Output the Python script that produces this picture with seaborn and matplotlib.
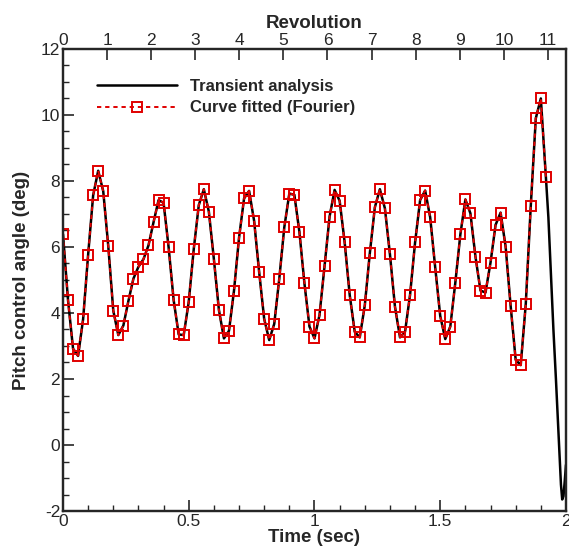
import numpy as np
import pandas as pd
import matplotlib
matplotlib.use("Agg")
import matplotlib.pyplot as plt
import seaborn as sns
from matplotlib.ticker import MultipleLocator

# ---- data ----
time_step = 0.02  # sampling interval of the fitted curve (sec)
fitted_values = [
    6.39, 4.39, 2.92, 2.70, 3.81, 5.77, 7.57, 8.31, 7.69, 6.03,
    4.07, 3.33, 3.62, 4.36, 5.04, 5.40, 5.63, 6.05, 6.75, 7.42,
    7.34, 5.99, 4.39, 3.35, 3.33, 4.34, 5.94, 7.27, 7.75, 7.07,
    5.63, 4.09, 3.23, 3.46, 4.68, 6.28, 7.47, 7.70, 6.79, 5.24,
    3.82, 3.18, 3.67, 5.04, 6.60, 7.62, 7.58, 6.46, 4.90, 3.59,
    3.23, 3.94, 5.42, 6.92, 7.73, 7.40, 6.14, 4.55, 3.43, 3.26,
    4.23, 5.81, 7.20, 7.75, 7.17, 5.78, 4.19, 3.26, 3.43, 4.55,
    6.14, 7.42, 7.71, 6.90, 5.38, 3.91, 3.21, 3.59, 4.92, 6.38,
    7.44, 7.02, 5.71, 4.68, 4.62, 5.53, 6.67, 7.04, 6.01, 4.21,
    2.58, 2.42, 4.26, 7.25, 9.90, 10.50, 8.13,
]
tail_time = [1.93, 1.94, 1.95, 1.96, 1.97, 1.98, 1.985, 1.99, 1.995, 2.00]
tail_values = [6.9, 5.2, 3.5, 2.0, 0.4, -1.2, -1.65, -1.55, -1.1, -0.6]
rev_at_end = 11.41  # revolutions reached at t = 2 s
rev_ticks = list(range(0, 12))
x_ticks = [0, 0.5, 1, 1.5, 2]
x_tick_labels = ["0", "0.5", "1", "1.5", "2"]
y_ticks = [-2, 0, 2, 4, 6, 8, 10, 12]

sns.set_style("ticks")
plt.rcParams['font.family'] = ['Liberation Sans', 'DejaVu Sans']
plt.rcParams['axes.unicode_minus'] = False
plt.rcParams['xtick.direction'] = 'in'
plt.rcParams['ytick.direction'] = 'in'

fig = plt.figure(figsize=(5.69, 5.54), dpi=100)
ax = fig.add_axes([0.1107, 0.0776, 0.884, 0.834])

fit_time = np.arange(len(fitted_values)) * time_step
df_fit = pd.DataFrame({"t": fit_time, "v": fitted_values})
df_tr = pd.DataFrame({"t": list(fit_time) + tail_time,
                      "v": fitted_values + tail_values})

sns.lineplot(data=df_tr, x="t", y="v", ax=ax, color="black", lw=1.8,
             label="Transient analysis", sort=False)
sns.lineplot(data=df_fit, x="t", y="v", ax=ax, color="#e00000", lw=1.4,
             linestyle=(0, (2.2, 2.0)), marker="s", markersize=7.2,
             markerfacecolor="none", markeredgecolor="#e00000",
             markeredgewidth=1.4, label="Curve fitted (Fourier)", sort=False)

ax.set_xlim(0, 2)
ax.set_ylim(-2, 12)
ax.set_xticks(x_ticks)
ax.set_xticklabels(x_tick_labels)
ax.set_yticks(y_ticks)
ax.xaxis.set_minor_locator(MultipleLocator(0.1))
ax.yaxis.set_minor_locator(MultipleLocator(0.5))
ax.tick_params(which="major", length=8, width=1.2, labelsize=12.5, pad=2)
ax.tick_params(which="minor", length=4.5, width=1.0)
ax.tick_params(axis="y", right=False)
ax.tick_params(axis="x", top=False)
for s in ax.spines.values():
    s.set_linewidth(1.6)
    s.set_visible(True)

ax.set_xlabel("Time (sec)", fontsize=13.5, fontweight="bold", labelpad=0)
ax.set_ylabel("Pitch control angle (deg)", fontsize=13.5, fontweight="bold", labelpad=8)

ax2 = ax.twiny()
ax2.set_xlim(0, rev_at_end)
ax2.set_xticks(rev_ticks)
ax2.tick_params(which="major", length=8, width=1.2, labelsize=12.5, pad=1, direction="in")
ax2.set_xlabel("Revolution", fontsize=13.5, fontweight="bold", labelpad=3)
for s in ax2.spines.values():
    s.set_linewidth(1.6)

leg = ax.legend(loc="upper left", bbox_to_anchor=(0.038, 0.968), frameon=False,
                handlelength=4.8, handletextpad=0.8, labelspacing=0.4,
                prop={"weight": "bold", "size": 12})

fig.savefig("out.png", dpi=100)
